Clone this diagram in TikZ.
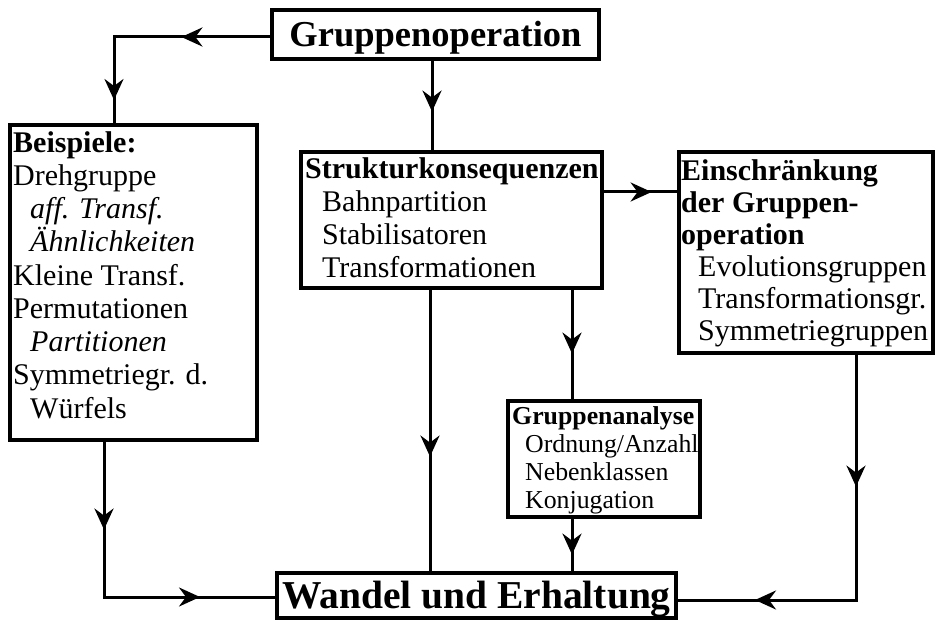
\documentclass[tikz,border=0pt]{standalone}
\usepackage{fontspec}
\setmainfont{Liberation Serif}
\usetikzlibrary{arrows.meta,calc}
\tikzset{midtip/.tip={Stealth[length=21pt,width=19pt,inset=7pt]}}
\begin{document}
\begin{tikzpicture}[x=1pt,y=-1pt,
  box/.style={draw, line width=3.2pt, inner sep=0pt, rectangle},
  txt/.style={inner sep=0pt, anchor=base west, align=left},
  conn/.style={line width=3pt},
  tipline/.style={line width=3pt, -{midtip}},
]
\useasboundingbox (0,0) rectangle (936,620);

% boxes
\node[box, minimum width=327pt, text height=37pt, text depth=12pt, anchor=base,
      font=\fontsize{36.5}{40}\selectfont\bfseries] (G) at (435.5,47) {Gruppenoperation};
\node[box, minimum width=399pt, text height=35pt, text depth=10pt, anchor=base,
      font=\fontsize{39.5}{42}\selectfont\bfseries] (W) at (476.5,608) {Wandel und Erhaltung};
\node[box, minimum width=247pt, minimum height=315pt] (B) at (133.5,282.5) {};
\node[box, minimum width=301pt, minimum height=136pt] (S) at (451.5,220) {};
\node[box, minimum width=254pt, minimum height=201pt] (E) at (806,252.5) {};
\node[box, minimum width=192pt, minimum height=116pt] (A) at (604,459) {};

% box texts (anchored at the baseline of the last line)
\node[txt, font=\fontsize{30}{33.25}\selectfont] (Bt) at (13,418)
  {\textbf{Beispiele:}\\ Drehgruppe\\ \hspace*{17pt}\textit{aff. Transf.}\\
   \hspace*{17pt}\textit{Ähnlichkeiten}\\ Kleine Transf.\\ Permutationen\\
   \hspace*{17pt}\textit{Partitionen}\\ Symmetriegr. d.\\ \hspace*{17pt}Würfels};
\node[txt, font=\fontsize{30}{33}\selectfont] (St) at (305,277)
  {\textbf{Strukturkonsequenzen}\\ \hspace*{17pt}Bahnpartition\\
   \hspace*{17pt}Stabilisatoren\\ \hspace*{17pt}Transformationen};
\node[txt, font=\fontsize{30}{32}\selectfont] (Et) at (681,340)
  {\textbf{Einschränkung}\\ \textbf{der Gruppen-}\\ \textbf{operation}\\
   \hspace*{17pt}Evolutionsgruppen\\ \hspace*{17pt}Transformationsgr.\\
   \hspace*{17pt}Symmetriegruppen};
\node[txt, font=\fontsize{25.8}{28}\selectfont] (At) at (512,508)
  {\textbf{Gruppenanalyse}\\ \hspace*{13pt}Ordnung/Anzahl\\
   \hspace*{13pt}Nebenklassen\\ \hspace*{13pt}Konjugation};

% turning points and line positions
\coordinate (k1) at (114,37);
\coordinate (k2) at (432,100);
\coordinate (k3) at (640,192);
\coordinate (k4) at (572,350);
\coordinate (k5) at (430,450);
\coordinate (k7) at (856,600);
\coordinate (k8) at (104,597);

% connector ends
\coordinate (g1) at (G.west |- k1);
\coordinate (b1) at (B.north -| k1);
\coordinate (g2) at (G.south -| k2);
\coordinate (s2) at (S.north -| k2);
\coordinate (s3) at (S.east |- k3);
\coordinate (e3) at (E.west |- k3);
\coordinate (s4) at (S.south -| k4);
\coordinate (a4) at (A.north -| k4);
\coordinate (s5) at (S.south -| k5);
\coordinate (w5) at (W.north -| k5);
\coordinate (a6) at (A.south -| k4);
\coordinate (w6) at (W.north -| k4);
\coordinate (e7) at (E.south -| k7);
\coordinate (w7) at (W.east |- k7);
\coordinate (b8) at (B.south -| k8);
\coordinate (w8) at (W.west |- k8);

% connectors
\draw[conn] (g1) -- (k1) -- (b1);
\draw[conn] (g2) -- (s2);
\draw[conn] (s3) -- (e3);
\draw[conn] (s4) -- (a4);
\draw[conn] (s5) -- (w5);
\draw[conn] (a6) -- (w6);
\draw[conn] (e7) -- (k7) -- (w7);
\draw[conn] (b8) -- (k8) -- (w8);

% arrow tips part way along the connectors
\draw[tipline] (g1) -- ($(g1)!89pt!(k1)$);
\draw[tipline] (k1) -- ($(k1)!63pt!(b1)$);
\draw[tipline] (g2) -- ($(g2)!51pt!(s2)$);
\draw[tipline] (s3) -- ($(s3)!48pt!(e3)$);
\draw[tipline] (s4) -- ($(s4)!64pt!(a4)$);
\draw[tipline] (s5) -- ($(s5)!167pt!(w5)$);
\draw[tipline] (a6) -- ($(a6)!36pt!(w6)$);
\draw[tipline] (e7) -- ($(e7)!132pt!(k7)$);
\draw[tipline] (k7) -- ($(k7)!101pt!(w7)$);
\draw[tipline] (b8) -- ($(b8)!88pt!(k8)$);
\draw[tipline] (k8) -- ($(k8)!96pt!(w8)$);
\end{tikzpicture}
\end{document}
